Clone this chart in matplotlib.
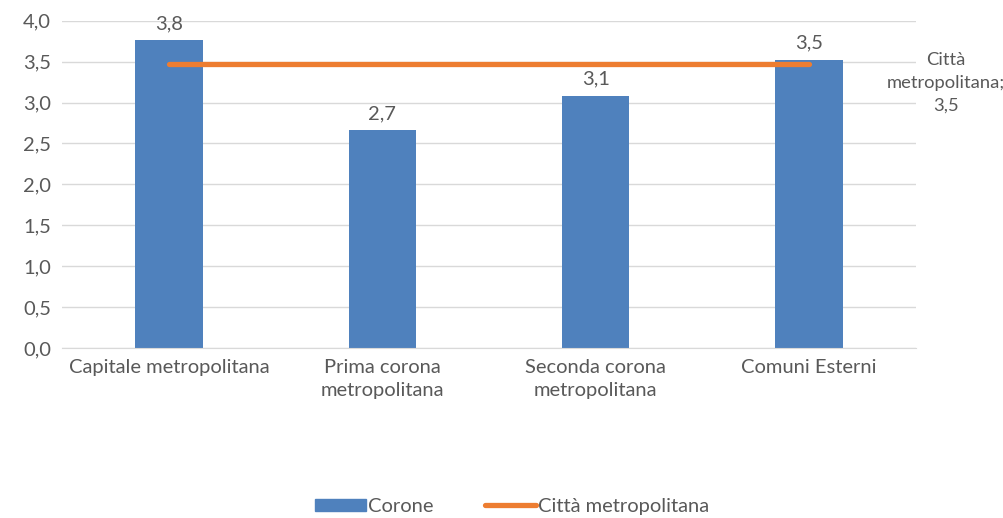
import matplotlib.pyplot as plt
from matplotlib.patches import Patch
from matplotlib.lines import Line2D
import numpy as np

plt.rcParams['font.family'] = ['Lato', 'DejaVu Sans']

# data
categories = ["Capitale metropolitana", "Prima corona\nmetropolitana",
              "Seconda corona\nmetropolitana", "Comuni Esterni"]
corone = [3.76, 2.66, 3.08, 3.52]
citta_metro = 3.47

bar_color = "#4F81BD"
line_color = "#ED7D31"
text_color = "#595959"


def fmt(v):
    return f"{v:.1f}".replace(".", ",")


fig = plt.figure(figsize=(10.04, 5.18), dpi=100)
ax = fig.add_axes([0.062, 0.328, 0.85, 0.632])

x = np.arange(len(categories))
ax.bar(x, corone, width=0.315, color=bar_color, zorder=2)
ax.plot([x[0], x[-1]], [citta_metro] * 2, color=line_color, lw=3.8,
        solid_capstyle="round", zorder=3)

for xi, v in zip(x, corone):
    ax.text(xi, v + 0.1, fmt(v), ha="center", va="bottom", fontsize=14.5, color=text_color)

ax.text(1.035, 0.81, "Città\nmetropolitana;\n" + fmt(citta_metro), transform=ax.transAxes,
        ha="center", va="center", fontsize=13.2, color=text_color, linespacing=1.5)

ax.set_xlim(-0.5, 3.5)
ax.set_ylim(0, 4)
ax.set_yticks(np.arange(0, 4.01, 0.5))
ax.set_yticklabels([fmt(t) for t in np.arange(0, 4.01, 0.5)])
ax.set_xticks(x)
ax.set_xticklabels(categories, linespacing=1.4)
ax.tick_params(axis="both", length=0, labelsize=14.5, colors=text_color, pad=8)
ax.grid(axis="y", color="#D9D9D9", lw=1, zorder=0)
for side in ["top", "right", "left"]:
    ax.spines[side].set_visible(False)
ax.spines["bottom"].set_color("#D9D9D9")

handles = [Patch(color=bar_color),
           Line2D([], [], color=line_color, lw=3.8, solid_capstyle="round")]
labels = ["Corone", "Città metropolitana"]
fig.legend(handles, labels, loc="center", bbox_to_anchor=(0.51, 0.022), ncol=2,
           frameon=False, fontsize=14.5, labelcolor=text_color, handlelength=2.5,
           handleheight=0.6, handletextpad=0.1, columnspacing=2.6)

fig.savefig("out.png", dpi=100)
